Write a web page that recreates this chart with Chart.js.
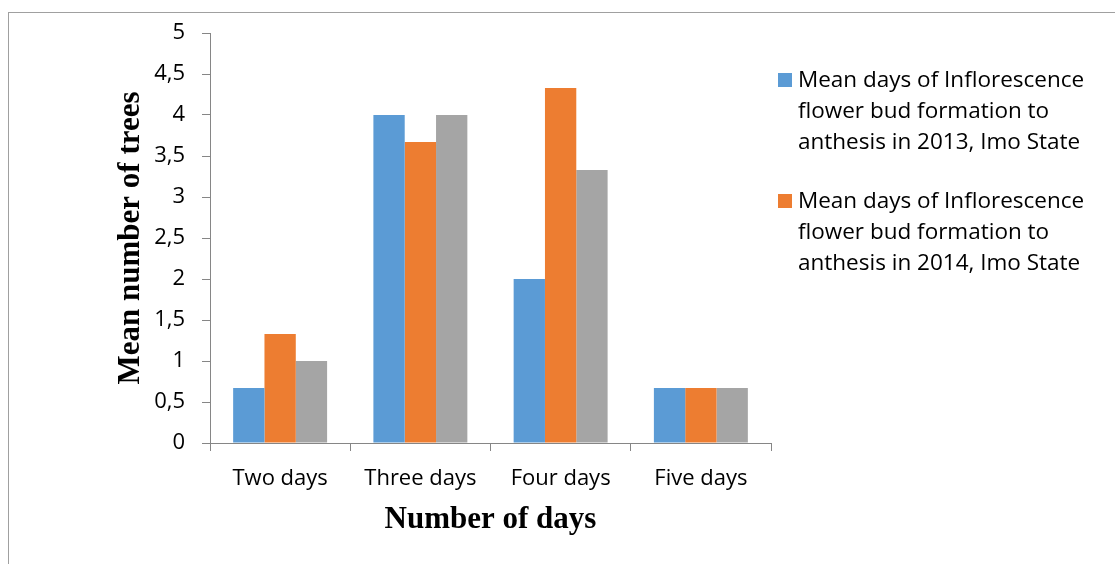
<!DOCTYPE html>
<html>
<head>
<meta charset="utf-8">
<script src="https://cdn.jsdelivr.net/npm/chart.js@4/dist/chart.umd.min.js"></script>
<style>
  html, body { margin: 0; padding: 0; background: #ffffff; overflow: hidden; }
  canvas { display: block; }
</style>
</head>
<body>
<canvas id="chart" width="1115" height="564"></canvas>
<script>
// Categories and series values
const categories = ['Two days', 'Three days', 'Four days', 'Five days'];
const values2013 = [0.67, 4, 2, 0.67];
const values2014 = [1.33, 3.67, 4.33, 0.67];
const values3 = [1, 4, 3.33, 0.67];
const yTickLabels = ['0', '0,5', '1', '1,5', '2', '2,5', '3', '3,5', '4', '4,5', '5'];
const seriesNames = [
  'Mean days of Inflorescence flower bud formation to anthesis in 2013, Imo State',
  'Mean days of Inflorescence flower bud formation to anthesis in 2014, Imo State',
  'Series 3'
];
const seriesColors = ['#5B9BD5', '#ED7D31', '#A5A5A5'];

const AXIS_COLOR = '#868686';
const TEXT_FONT = '"Open Sans", "Noto Sans", sans-serif';
const TITLE_FONT = '"Liberation Serif", "Times New Roman", serif';

// Frame around the whole chart
const framePlugin = {
  id: 'frame',
  beforeDraw(chart) {
    const ctx = chart.ctx;
    ctx.save();
    ctx.strokeStyle = '#a0a0a0';
    ctx.lineWidth = 1;
    ctx.strokeRect(8.5, 12.5, chart.width + 20, chart.height + 20);
    ctx.restore();
  }
};

// Legend on the right with wrapped entries
const wrappedLegend = {
  id: 'wrappedLegend',
  afterDraw(chart, args, opts) {
    const ctx = chart.ctx;
    ctx.save();
    ctx.font = opts.fontSize + 'px ' + TEXT_FONT;
    ctx.fillStyle = '#000000';
    ctx.textAlign = 'left';
    ctx.textBaseline = 'alphabetic';
    let top = opts.top;
    chart.data.datasets.forEach((ds) => {
      if (ds.hideInLegend) return;
      // wrap label into lines
      const words = ds.label.split(' ');
      const lines = [];
      let cur = '';
      words.forEach((w) => {
        const test = cur ? cur + ' ' + w : w;
        if (ctx.measureText(test).width > opts.maxWidth && cur) {
          lines.push(cur);
          cur = w;
        } else {
          cur = test;
        }
      });
      if (cur) lines.push(cur);
      ctx.fillStyle = ds.backgroundColor;
      ctx.fillRect(opts.left, top, opts.box, opts.box);
      ctx.fillStyle = '#000000';
      lines.forEach((ln, i) => {
        ctx.fillText(ln, opts.textLeft, top + opts.firstBaseline + i * opts.lineGap);
      });
      top += opts.itemGap;
    });
    ctx.restore();
  }
};

new Chart(document.getElementById('chart'), {
  type: 'bar',
  data: {
    labels: categories,
    datasets: [
      { label: seriesNames[0], data: values2013, backgroundColor: seriesColors[0] },
      { label: seriesNames[1], data: values2014, backgroundColor: seriesColors[1] },
      { label: seriesNames[2], data: values3, backgroundColor: seriesColors[2], hideInLegend: true }
    ]
  },
  options: {
    responsive: false,
    devicePixelRatio: 1,
    animation: false,
    layout: { padding: { left: 0, right: 344, top: 33, bottom: 0 } },
    datasets: {
      bar: { categoryPercentage: 0.67, barPercentage: 1.0, borderWidth: 0 }
    },
    plugins: {
      legend: { display: false },
      tooltip: { enabled: false },
      wrappedLegend: {
        left: 778, top: 73, box: 14, textLeft: 798, firstBaseline: 14,
        lineGap: 31, itemGap: 121, maxWidth: 310, fontSize: 22.5
      }
    },
    scales: {
      x: {
        grid: {
          display: true, drawOnChartArea: false, drawTicks: true,
          tickLength: 8, color: AXIS_COLOR, offset: true
        },
        border: { display: true, color: AXIS_COLOR, width: 1 },
        ticks: {
          color: '#000000', padding: 15,
          font: { family: TEXT_FONT, size: 22 }
        },
        title: {
          display: true, text: 'Number of days', color: '#000000',
          font: { family: TITLE_FONT, size: 31, weight: 'bold' },
          padding: { top: 0, bottom: 25 }
        },
        afterFit(scale) { scale.height = 121; }
      },
      y: {
        min: 0, max: 5,
        grid: {
          display: true, drawOnChartArea: false, drawTicks: true,
          tickLength: 8, color: AXIS_COLOR
        },
        border: { display: true, color: AXIS_COLOR, width: 1 },
        ticks: {
          stepSize: 0.5, color: '#000000', padding: 17,
          font: { family: TEXT_FONT, size: 22 },
          callback: (value, index) => yTickLabels[index]
        },
        title: {
          display: true, text: 'Mean number of trees', color: '#000000',
          font: { family: TITLE_FONT, size: 31, weight: 'bold' },
          padding: { top: 112, bottom: 0 }
        },
        afterFit(scale) { scale.width = 210; }
      }
    }
  },
  plugins: [framePlugin, wrappedLegend]
});
</script>
</body>
</html>
